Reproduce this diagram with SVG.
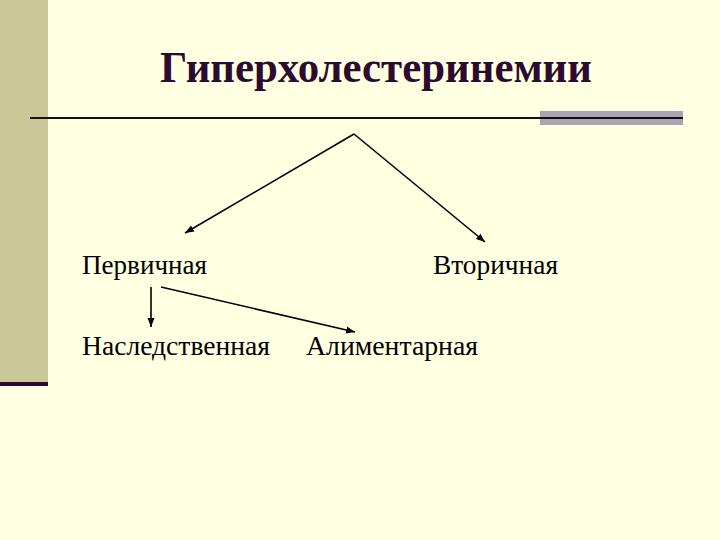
<svg xmlns="http://www.w3.org/2000/svg" width="720" height="540" viewBox="0 0 720 540">
<defs>
<style>
.lbl{font-family:'Liberation Serif','DejaVu Serif','Times New Roman',serif;font-size:27px;fill:#000}
.ttl{font-family:'Liberation Serif','DejaVu Serif','Times New Roman',serif;font-size:44px;font-weight:bold;fill:#2d0a30}
.con{stroke:#000;stroke-width:1.6;fill:none;marker-end:url(#ah)}
</style>
<marker id="ah" markerUnits="userSpaceOnUse" markerWidth="10" markerHeight="8" refX="9" refY="4" orient="auto">
<path d="M0,0.5 L9,4 L0,7.5 z" fill="#000"/>
</marker>
</defs>
<rect x="0" y="0" width="720" height="540" fill="#ffffe1"/>
<rect x="0" y="0" width="48" height="382" fill="#c9c896"/>
<rect x="0" y="382" width="48" height="4" fill="#2d0a30"/>
<rect x="540" y="111" width="143" height="14" fill="#a9a3b5"/>
<line x1="30" y1="118" x2="683" y2="118" stroke="#111" stroke-width="2"/>
<g id="title"><text class="ttl" x="160" y="82" textLength="432" lengthAdjust="spacingAndGlyphs">Гиперхолестеринемии</text></g>
<g id="connectors">
<line class="con" x1="354" y1="134" x2="185" y2="233"/>
<line class="con" x1="354" y1="134" x2="485" y2="242"/>
<line class="con" x1="151" y1="287" x2="151" y2="327"/>
<line class="con" x1="161" y1="287" x2="355" y2="332"/>
</g>
<g id="node-primary"><text class="lbl" x="82" y="274" textLength="125" lengthAdjust="spacingAndGlyphs">Первичная</text></g>
<g id="node-secondary"><text class="lbl" x="433" y="274" textLength="125" lengthAdjust="spacingAndGlyphs">Вторичная</text></g>
<g id="node-hereditary"><text class="lbl" x="82" y="355" textLength="188" lengthAdjust="spacingAndGlyphs">Наследственная</text></g>
<g id="node-alimentary"><text class="lbl" x="306" y="355" textLength="172" lengthAdjust="spacingAndGlyphs">Алиментарная</text></g>
</svg>
